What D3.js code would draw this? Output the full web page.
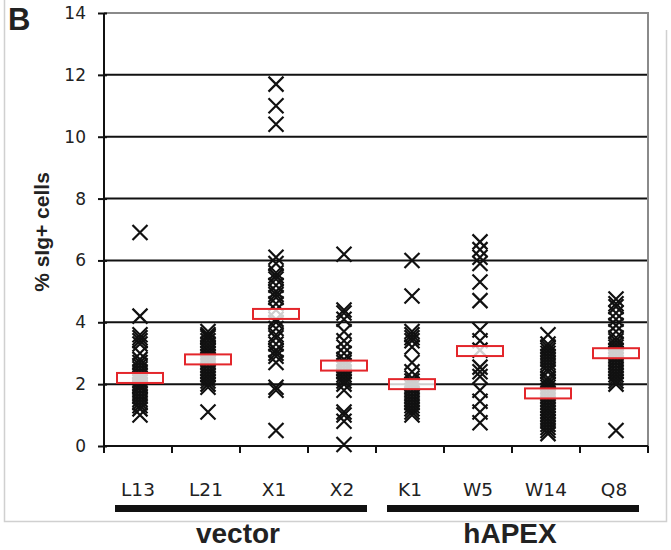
<!DOCTYPE html>
<html>
<head>
<meta charset="utf-8">
<script src="https://cdn.jsdelivr.net/npm/d3@7.9.0/dist/d3.min.js"></script>
<style>
  body { margin: 0; background: #fff; }
  svg { display: block; }
</style>
</head>
<body>
<svg id="chart" width="671" height="550"></svg>
<script>
// categories and groups
const categories = ['L13', 'L21', 'X1', 'X2', 'K1', 'W5', 'W14', 'Q8'];
const groups = [
  { name: 'vector', from: 'L13', to: 'X2' },
  { name: 'hAPEX', from: 'K1', to: 'Q8' },
];

// % sIg+ cells per clone
const L13 = [6.9, 4.2, 3.6, 3.5, 3.4, 3.3, 3.0, 2.8, 2.7, 2.6, 2.5, 2.4, 2.3, 2.2, 2.1, 2.0, 1.95, 1.9, 1.8, 1.7, 1.6, 1.5, 1.4, 1.3, 1.2, 1.0];
const L21 = [3.7, 3.6, 3.55, 3.5, 3.4, 3.3, 3.2, 3.1, 3.0, 2.9, 2.8, 2.7, 2.6, 2.5, 2.4, 2.3, 2.2, 2.1, 2.0, 1.9, 1.1];
const X1 = [11.7, 11.0, 10.4, 6.1, 5.9, 5.6, 5.5, 5.4, 5.2, 5.0, 4.9, 4.8, 4.6, 4.4, 4.1, 4.0, 3.8, 3.6, 3.5, 3.3, 3.1, 3.0, 2.9, 2.7, 1.9, 1.8, 0.5];
const X2 = [6.2, 4.4, 4.3, 4.1, 3.7, 3.4, 3.2, 3.0, 2.8, 2.7, 2.6, 2.5, 2.4, 2.3, 2.2, 2.1, 2.0, 1.8, 1.1, 1.0, 0.8, 0.05];
const K1 = [6.0, 4.85, 3.7, 3.6, 3.5, 3.4, 3.2, 2.7, 2.4, 2.2, 2.1, 2.0, 1.9, 1.8, 1.7, 1.6, 1.5, 1.4, 1.3, 1.2, 1.1, 1.0];
const W5 = [6.6, 6.35, 6.1, 5.9, 5.3, 4.7, 3.75, 3.4, 3.1, 2.55, 2.4, 2.25, 1.8, 1.45, 1.1, 0.75];
const W14 = [3.6, 3.3, 3.2, 3.1, 3.0, 2.9, 2.8, 2.7, 2.6, 2.5, 2.4, 2.2, 2.1, 2.0, 1.9, 1.8, 1.7, 1.6, 1.5, 1.4, 1.3, 1.2, 1.1, 1.0, 0.9, 0.8, 0.7, 0.6, 0.5, 0.4];
const Q8 = [4.75, 4.6, 4.5, 4.3, 4.1, 3.9, 3.7, 3.5, 3.4, 3.3, 3.2, 3.1, 3.0, 2.9, 2.8, 2.7, 2.6, 2.5, 2.4, 2.3, 2.2, 2.1, 2.0, 0.5];
const seriesValues = [L13, L21, X1, X2, K1, W5, W14, Q8];

// red boxes (group averages)
const means = [2.2, 2.8, 4.27, 2.6, 2.0, 3.07, 1.7, 3.0];

const yTicks = [0, 2, 4, 6, 8, 10, 12, 14];

const svg = d3.select('#chart');

const plotLeft = 104, plotRight = 648, plotTop = 13, plotBottom = 446;

const x = d3.scaleBand().domain(categories).range([plotLeft, plotRight]).padding(0);
const y = d3.scaleLinear().domain([0, 14]).range([plotBottom, plotTop]);

// outer frame (light grey)
svg.append('path')
  .attr('d', `M4.5,0 V521.5 H666.5 V30`)
  .attr('fill', 'none')
  .attr('stroke', '#d0d0d0')
  .attr('stroke-width', 1.5);

// gridlines
svg.append('g')
  .selectAll('line')
  .data(yTicks.filter((d) => d > 0 && d < 14))
  .join('line')
  .attr('x1', plotLeft)
  .attr('x2', plotRight)
  .attr('y1', (d) => y(d))
  .attr('y2', (d) => y(d))
  .attr('stroke', '#111')
  .attr('stroke-width', 2);

// plot-area border top + right (grey)
svg.append('path')
  .attr('d', `M${plotLeft},${y(14)} H${plotRight} V${plotBottom}`)
  .attr('fill', 'none')
  .attr('stroke', '#8a8a8a')
  .attr('stroke-width', 2);

// y axis
const yAxis = svg.append('g')
  .attr('transform', `translate(${plotLeft},0)`)
  .call(d3.axisLeft(y).tickValues(yTicks).tickSize(6).tickPadding(12));
yAxis.select('.domain').attr('stroke', '#111').attr('stroke-width', 2)
  .attr('d', `M0,${y(14)}V${plotBottom}`);
yAxis.selectAll('.tick line').attr('stroke', '#111').attr('stroke-width', 2).attr('x2', -6).attr('x1', 3);
yAxis.selectAll('.tick text')
  .attr('font-family', 'DejaVu Sans, Verdana, sans-serif')
  .attr('font-size', 17)
  .attr('fill', '#222');

// x axis
const bw = x.bandwidth();
const xAxisG = svg.append('g').attr('transform', `translate(0,${plotBottom})`);
xAxisG.append('line')
  .attr('x1', plotLeft).attr('x2', plotRight)
  .attr('stroke', '#111').attr('stroke-width', 2);
xAxisG.selectAll('line.tick')
  .data(categories.concat(['end']))
  .join('line')
  .attr('class', 'tick')
  .attr('x1', (d) => (d === 'end' ? plotRight : x(d)))
  .attr('x2', (d) => (d === 'end' ? plotRight : x(d)))
  .attr('y1', 0)
  .attr('y2', 7)
  .attr('stroke', '#111')
  .attr('stroke-width', 2);

// category labels
svg.append('g')
  .selectAll('text')
  .data(categories)
  .join('text')
  .attr('x', (d) => x(d) + bw / 2)
  .attr('y', 496)
  .attr('text-anchor', 'middle')
  .attr('font-family', 'DejaVu Sans, Verdana, sans-serif')
  .attr('font-size', 18.5)
  .attr('fill', '#222')
  .text((d) => d);

// group bars and labels
groups.forEach((g) => {
  const x0 = x(g.from) + 11;
  const x1 = x(g.to) + bw - 9;
  svg.append('rect')
    .attr('x', x0)
    .attr('y', 505)
    .attr('width', x1 - x0)
    .attr('height', 7)
    .attr('fill', '#111');
  svg.append('text')
    .attr('x', (x0 + x1) / 2 - 3)
    .attr('y', 543)
    .attr('text-anchor', 'middle')
    .attr('font-family', 'Liberation Sans, Arial, sans-serif')
    .attr('font-weight', 'bold')
    .attr('font-size', 28)
    .attr('fill', '#222')
    .text(g.name);
});

// points (X markers)
const half = 7.5;
const pts = [];
categories.forEach((c, i) => {
  seriesValues[i].forEach((v) => pts.push({ c, v }));
});
svg.append('g')
  .selectAll('path')
  .data(pts)
  .join('path')
  .attr('transform', (d) => `translate(${x(d.c) + bw / 2 + 2},${y(d.v)})`)
  .attr('d', `M${-half},${-half}L${half},${half}M${-half},${half}L${half},${-half}`)
  .attr('stroke', '#111')
  .attr('stroke-width', 2.2)
  .attr('fill', 'none');

// mean boxes
svg.append('g')
  .selectAll('rect')
  .data(categories)
  .join('rect')
  .attr('x', (d) => x(d) + bw / 2 + 2 - 23)
  .attr('y', (d, i) => y(means[i]) - 5)
  .attr('width', 46)
  .attr('height', 10)
  .attr('fill', 'rgba(255,255,255,0.8)')
  .attr('stroke', '#e3262b')
  .attr('stroke-width', 2);

// y title
svg.append('text')
  .attr('transform', 'translate(49,232) rotate(-90)')
  .attr('text-anchor', 'middle')
  .attr('font-family', 'Liberation Sans, Arial, sans-serif')
  .attr('font-weight', 'bold')
  .attr('font-size', 21)
  .attr('fill', '#222')
  .text('% sIg+ cells');

// panel letter
svg.append('text')
  .attr('x', 8)
  .attr('y', 30)
  .attr('font-family', 'Liberation Sans, Arial, sans-serif')
  .attr('font-weight', 'bold')
  .attr('font-size', 31)
  .attr('fill', '#222')
  .text('B');
</script>
</body>
</html>
